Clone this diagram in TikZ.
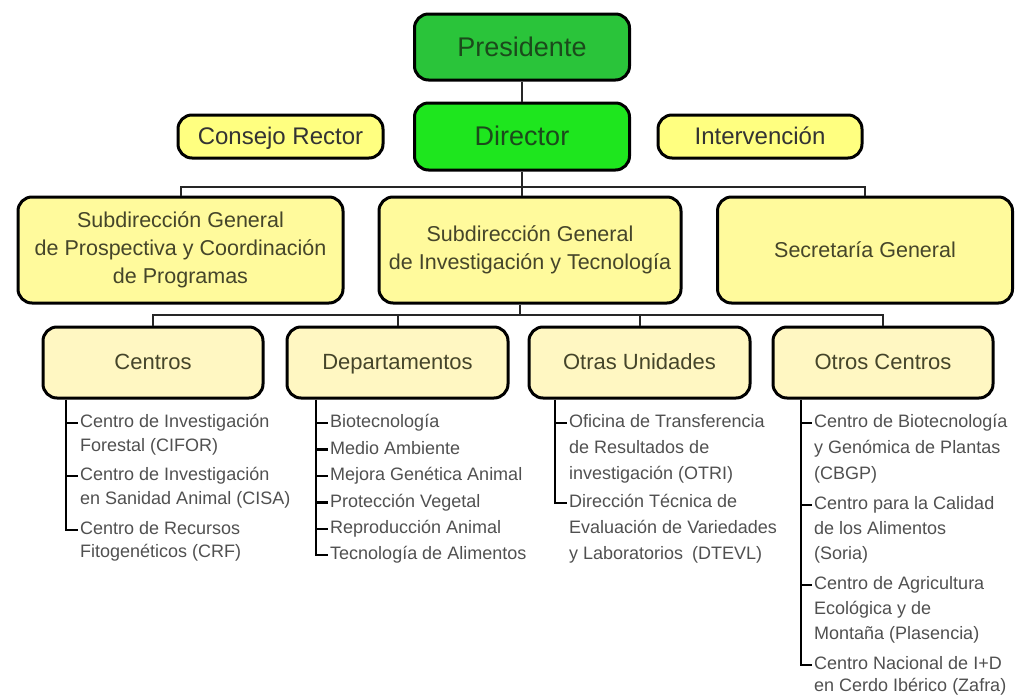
\documentclass[tikz,border=0pt]{standalone}
\usepackage{fontspec}
\setmainfont{Liberation Sans}
\definecolor{presgreen}{HTML}{2AC43A}
\definecolor{dirgreen}{HTML}{1EE61E}
\definecolor{gtext}{HTML}{1B4A1B}
\definecolor{ybright}{HTML}{FFFF80}
\definecolor{ysub}{HTML}{FFFA9C}
\definecolor{ypale}{HTML}{FFF7C2}
\definecolor{otext}{HTML}{45452A}
\definecolor{listgray}{HTML}{505050}
\tikzset{
  box/.style={draw=black, line width=3pt, rounded corners=14pt, align=center, inner sep=2pt},
  greenbox/.style={box, fill=#1, text=gtext, font=\fontsize{27}{30}\selectfont, text height=20pt, text depth=2pt},
  sidebox/.style={box, fill=ybright, text=black!80, font=\fontsize{24}{27}\selectfont, minimum height=43pt, text height=18pt, text depth=1.5pt},
  subbox/.style={box, fill=ysub, text=otext, font=\fontsize{21.5}{28}\selectfont, minimum height=106pt},
  unitbox/.style={box, fill=ypale, text=otext, font=\fontsize{22}{26}\selectfont, minimum width=220pt, minimum height=71pt, text height=16pt, text depth=1.5pt},
  conn/.style={draw=black!85, line width=2pt},
  lconn/.style={draw=black, line width=2.4pt, shorten >=2pt},
  itemtext/.style={anchor=west, inner sep=0pt, text=listgray, font=\fontsize{18}{20}\selectfont, text height=13pt, text depth=4pt}
}
\begin{document}
\begin{tikzpicture}[x=1pt,y=-1pt]
\useasboundingbox (0,0) rectangle (1015,696);
% top
\node[greenbox=presgreen, minimum width=215pt, minimum height=66pt] (pres) at (522,47) {Presidente};
\node[greenbox=dirgreen, minimum width=215pt, minimum height=67pt] (dir) at (522,136.5) {Director};
\node[sidebox, minimum width=205pt] (cons) at (280.5,136.5) {Consejo Rector};
\node[sidebox, minimum width=204pt] (interv) at (760,136.5) {Intervención};
% subdirections
\node[subbox, minimum width=325pt] (sub1) at (180.5,250) {Subdirección General\\de Prospectiva y Coordinación\\de Programas};
\node[subbox, minimum width=302pt] (sub2) at (530,250) {Subdirección General\\de Investigación y Tecnología};
\node[subbox, minimum width=295pt] (sub3) at (865,250) {Secretaría General};
% units
\node[unitbox] (cen) at (153,362.5) {Centros};
\node[unitbox, minimum width=221pt] (dep) at (397.5,362.5) {Departamentos};
\node[unitbox, minimum width=221pt] (otr) at (639.5,362.5) {Otras Unidades};
\node[unitbox] (oce) at (883,362.5) {Otros Centros};
% buses
\coordinate (b1) at (522,187);
\coordinate (b2) at (520,315);
\draw[conn] (pres) -- (dir);
\draw[conn] (dir.south) -- (dir.south |- sub2.north);
\draw[conn] (sub1.north) -- (sub1.north |- b1) -- (sub3.north |- b1) -- (sub3.north);
\draw[conn] (sub2.south -| b2) -- (b2);
\draw[conn] (cen.north) -- (cen.north |- b2) -- (oce.north |- b2) -- (oce.north);
\draw[conn] (dep.north) -- (dep.north |- b2);
\draw[conn] (otr.north) -- (otr.north |- b2);
% list axes
\coordinate (cx) at (66,398);
\coordinate (dx) at (316,398);
\coordinate (ox) at (555,398);
\coordinate (ocx) at (801,398);
% Centros list
\node[itemtext] (c1) at (80,423) {Centro de Investigación};
\node[itemtext] (c1b) at (80,447) {Forestal (CIFOR)};
\node[itemtext] (c2) at (80,476) {Centro de Investigación};
\node[itemtext] (c2b) at (80,500) {en Sanidad Animal (CISA)};
\node[itemtext] (c3) at (80,530) {Centro de Recursos};
\node[itemtext] (c3b) at (80,553) {Fitogenéticos (CRF)};
\draw[lconn] (cen.south -| cx) |- (c3.west);
\draw[lconn] (cx |- c1.west) -- (c1.west);
\draw[lconn] (cx |- c2.west) -- (c2.west);
% Departamentos list
\node[itemtext] (d1) at (330,423) {Biotecnología};
\node[itemtext] (d2) at (330,449.5) {Medio Ambiente};
\node[itemtext] (d3) at (330,476) {Mejora Genética Animal};
\node[itemtext] (d4) at (330,502.5) {Protección Vegetal};
\node[itemtext] (d5) at (330,529) {Reproducción Animal};
\node[itemtext] (d6) at (330,555) {Tecnología de Alimentos};
\draw[lconn] (dep.south -| dx) |- (d6.west);
\foreach \n in {d1,d2,d3,d4,d5} \draw[lconn] (dx |- \n.west) -- (\n.west);
% Otras Unidades list
\node[itemtext] (u1) at (569,423) {Oficina de Transferencia};
\node[itemtext] (u1b) at (569,449) {de Resultados de};
\node[itemtext] (u1c) at (569,475) {investigación (OTRI)};
\node[itemtext] (u2) at (569,503) {Dirección Técnica de};
\node[itemtext] (u2b) at (569,529) {Evaluación de Variedades};
\node[itemtext] (u2c) at (569,555) {y Laboratorios\enspace(DTEVL)};
\draw[lconn] (otr.south -| ox) |- (u2.west);
\draw[lconn] (ox |- u1.west) -- (u1.west);
% Otros Centros list
\node[itemtext] (o1) at (814,423) {Centro de Biotecnología};
\node[itemtext] (o1b) at (814,449) {y Genómica de Plantas};
\node[itemtext] (o1c) at (814,475) {(CBGP)};
\node[itemtext] (o2) at (814,505) {Centro para la Calidad};
\node[itemtext] (o2b) at (814,530) {de los Alimentos};
\node[itemtext] (o2c) at (814,555) {(Soria)};
\node[itemtext] (o3) at (814,585) {Centro de Agricultura};
\node[itemtext] (o3b) at (814,610) {Ecológica y de};
\node[itemtext] (o3c) at (814,635) {Montaña (Plasencia)};
\node[itemtext] (o4) at (814,665) {Centro Nacional de I+D};
\node[itemtext] (o4b) at (814,687) {en Cerdo Ibérico (Zafra)};
\draw[lconn] (oce.south -| ocx) |- (o4.west);
\foreach \n in {o1,o2,o3} \draw[lconn] (ocx |- \n.west) -- (\n.west);
\end{tikzpicture}
\end{document}
